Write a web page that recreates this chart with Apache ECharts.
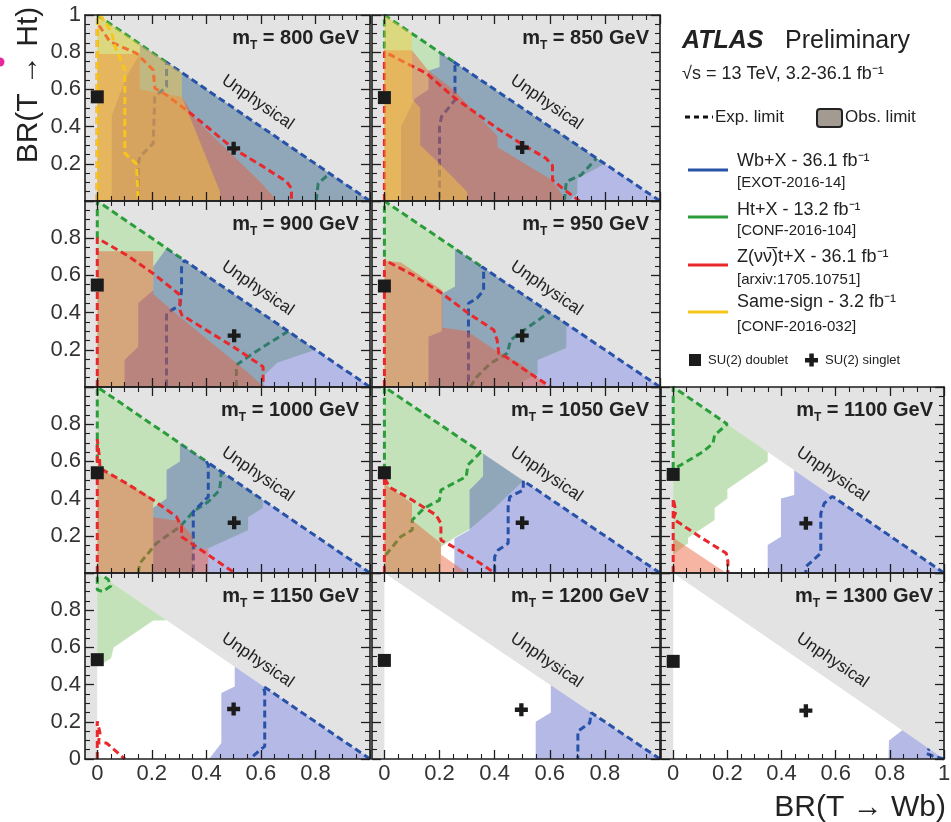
<!DOCTYPE html>
<html>
<head>
<meta charset="utf-8">
<title>T quark BR limits</title>
<script src="https://cdn.jsdelivr.net/npm/echarts@6.0.0/dist/echarts.min.js"></script>
<style>
  html, body { margin: 0; padding: 0; background: #fff; }
  #container { width: 951px; height: 822px; }
</style>
</head>
<body>
<div id="container"></div>
<script>
// one panel per T mass (GeV)
const masses = [800, 850, 900, 950, 1000, 1050, 1100, 1150, 1200, 1300];

// observed excluded regions, points are [BR(T->Wb), BR(T->Ht)]
const htObs = [
    [[0,0],[0,1],[1,0]],
    [[0,0],[0,1],[0.8,0.2],[0.7,0.12],[0.7,0.04],[0.67,0]],
    [[0,0],[0,1],[0.8,0.2],[0.66,0.13],[0.61,0.06],[0.61,0]],
    [[0,0],[0,1],[0.66,0.34],[0.66,0.21],[0.556,0.145],[0.556,0.07],[0.5,0.03],[0.5,0]],
    [[0,0],[0,1],[0.607,0.393],[0.607,0.35],[0.553,0.3],[0.553,0.23],[0.407,0.133],[0.35,0.124],[0.35,0]],
    [[0,0],[0,1],[0.504,0.496],[0.4,0.35],[0.309,0.235],[0.254,0.19],[0.205,0.14],[0.205,0]],
    [[0,0.1],[0,1],[0.349,0.651],[0.349,0.6],[0.2,0.45],[0.2,0.4],[0.153,0.35],[0.153,0.285],[0.055,0.19],[0.055,0.16]],
    [[0,0.5],[0,1],[0.254,0.746],[0.205,0.745],[0.06,0.6],[0.05,0.54],[0.01,0.505]],
    [],
    []
];
const wbObs = [
    [[0.156,0.844],[0.156,0.79],[0.107,0.67],[0.053,0.46],[0.053,0],[1,0]],
    [[0.2,0.8],[0.2,0.72],[0.16,0.7],[0.16,0.6],[0.11,0.55],[0.06,0.4],[0.06,0],[1,0]],
    [[0.254,0.746],[0.205,0.647],[0.205,0.52],[0.15,0.45],[0.15,0.217],[0.1,0.145],[0.1,0],[1,0]],
    [[0.256,0.744],[0.256,0.54],[0.208,0.5],[0.208,0.3],[0.16,0.27],[0.16,0],[1,0]],
    [[0.303,0.697],[0.303,0.6],[0.254,0.554],[0.254,0.4],[0.205,0.35],[0.205,0],[1,0]],
    [[0.358,0.642],[0.358,0.52],[0.309,0.446],[0.309,0.231],[0.254,0.186],[0.254,0],[1,0]],
    [[0.447,0.553],[0.447,0.42],[0.398,0.4],[0.398,0.195],[0.349,0.15],[0.349,0],[1,0]],
    [[0.504,0.496],[0.504,0.39],[0.455,0.355],[0.455,0.086],[0.41,0],[1,0]],
    [[0.604,0.396],[0.604,0.25],[0.549,0.2],[0.549,0],[1,0]],
    [[0.846,0.154],[0.797,0.1],[0.795,0],[1,0]]
];
const ztObs = [
    [[0,0],[0,0.79],[0.156,0.79],[0.156,0.6],[0.31,0.56],[0.36,0.44],[0.6,0.1],[0.66,0]],
    [[0,0],[0,0.81],[0.1,0.81],[0.16,0.7],[0.25,0.6],[0.41,0.35],[0.41,0.29],[0.61,0.11],[0.66,0]],
    [[0,0],[0,0.73],[0.205,0.73],[0.205,0.5],[0.3,0.38],[0.45,0.2],[0.55,0.08],[0.61,0]],
    [[0,0],[0,0.68],[0.06,0.67],[0.21,0.52],[0.21,0.32],[0.3,0.3],[0.4,0.2],[0.5,0.12],[0.556,0.05],[0.59,0]],
    [[0,0],[0,0.57],[0.205,0.4],[0.205,0.3],[0.3,0.28],[0.35,0.2],[0.35,0.13],[0.407,0.13],[0.407,0]],
    [[0,0],[0,0.48],[0.1,0.375],[0.1,0.285],[0.205,0.16],[0.205,0.1],[0.3,0]],
    [[0,0],[0,0.19],[0.196,0]],
    [],
    [],
    []
];
const ssObs = [
    [[0,0],[0,1],[0.31,0.69],[0.31,0.56],[0.45,0.05],[0.45,0]],
    [[0,0],[0,1],[0.1,0.9],[0.1,0.55],[0.13,0.5],[0.13,0.3],[0.2,0.2],[0.3,0.05],[0.3,0]],
    [], [], [], [], [], [], [], []
];

// expected limits (dashed), a list of polylines per panel
const htExp = [
    [[[0,1],[0.254,0.746]], [[0.803,0],[0.81,0.095],[0.852,0.148]]],
    [[[0,0.82],[0,1],[0.25,0.75]], [[0.653,0],[0.66,0.104],[0.714,0.14],[0.77,0.23]]],
    [[[0,0.8],[0,1],[0.31,0.69]], [[0.51,0],[0.51,0.118],[0.57,0.18],[0.7,0.3]]],
    [[[0,0.7],[0,1],[0.354,0.646]], [[0.311,0],[0.336,0.056],[0.385,0.127],[0.446,0.181],[0.458,0.253],[0.507,0.306],[0.598,0.402]]],
    [[[0,0.6],[0,1],[0.4,0.6]], [[0.15,0],[0.156,0.052],[0.217,0.16],[0.303,0.249],[0.352,0.33],[0.407,0.383],[0.449,0.446],[0.455,0.545]]],
    [[[0,0.55],[0,1],[0.35,0.65]], [[0.35,0.65],[0.303,0.581],[0.297,0.518],[0.205,0.446],[0.2,0.392],[0.144,0.348],[0.101,0.285],[0.101,0.231],[0.059,0.195],[0.01,0.106],[0,0.09]]],
    [[[0,0.5],[0,1],[0.2,0.8],[0.153,0.742],[0.147,0.697],[0.11,0.652],[0.043,0.593],[0.006,0.563]]],
    [[[0,0.98],[0,0.91],[0.02,0.9],[0.05,0.93],[0.04,0.965],[0.02,0.985]]],
    [],
    []
];
const wbExp = [
    [[[1,0],[0.254,0.746],[0.254,0.615],[0.211,0.56],[0.205,0.31],[0.156,0.238],[0.15,0.2],[0.15,0]]],
    [[[1,0],[0.25,0.75],[0.256,0.73],[0.256,0.543],[0.207,0.453],[0.2,0.4],[0.2,0]]],
    [[[1,0],[0.32,0.68],[0.309,0.656],[0.309,0.52],[0.303,0.44],[0.28,0.42],[0.254,0.396],[0.254,0]]],
    [[[1,0],[0.354,0.646],[0.36,0.62],[0.36,0.52],[0.336,0.477],[0.305,0.45],[0.305,0]]],
    [[[1,0],[0.4,0.6],[0.407,0.58],[0.407,0.41],[0.352,0.33],[0.352,0]]],
    [[[1,0],[0.504,0.496],[0.504,0.446],[0.455,0.41],[0.449,0.357],[0.449,0.16],[0.413,0.124],[0.4,0.088],[0.4,0]]],
    [[[1,0],[0.588,0.412],[0.558,0.375],[0.545,0.32],[0.545,0.106],[0.49,0.034],[0.49,0]]],
    [[[1,0],[0.608,0.392],[0.614,0.36],[0.614,0.068],[0.59,0.04],[0.559,0]]],
    [[[1,0],[0.751,0.249],[0.745,0.194],[0.702,0.149],[0.702,0]]],
    [[[1,0],[0.96,0.015],[0.935,0.03],[0.945,0.055]]]
];
const ztExp = [
    [[[0,0],[0,0.94],[0.01,0.937],[0.046,0.857],[0.144,0.794],[0.205,0.704],[0.211,0.606],[0.254,0.57],[0.358,0.453],[0.498,0.283],[0.608,0.185],[0.694,0.104],[0.712,0.068],[0.712,0]]],
    [[[0,0],[0,0.803],[0.067,0.75],[0.153,0.686],[0.25,0.56],[0.41,0.39],[0.494,0.31],[0.586,0.23],[0.61,0.19],[0.61,0.113],[0.653,0.06],[0.708,0]]],
    [[[0,0],[0,0.8],[0.107,0.71],[0.205,0.61],[0.303,0.495],[0.303,0.414],[0.31,0.387],[0.498,0.217],[0.608,0.109],[0.608,0]]],
    [[[0,0],[0,0.683],[0.104,0.602],[0.208,0.504],[0.305,0.396],[0.397,0.306],[0.409,0.253],[0.415,0.181],[0.44,0.163],[0.519,0.082],[0.604,0]]],
    [[[0,0],[0,0.72],[0.008,0.62],[0.01,0.563],[0.107,0.482],[0.205,0.392],[0.29,0.303],[0.309,0.25],[0.309,0.195],[0.407,0.097],[0.504,0]]],
    [[[0,0],[0,0.58],[0.004,0.5],[0.02,0.46],[0.101,0.392],[0.187,0.312],[0.205,0.267],[0.205,0.177],[0.248,0.142],[0.321,0.079],[0.4,0]]],
    [[[0,0],[0,0.4],[0.01,0.33],[0,0.29],[0.025,0.267],[0.098,0.195],[0.196,0.106],[0.202,0.061],[0.202,0]]],
    [[[0,0],[0,0.203],[0.01,0.14],[0.004,0.086],[0.034,0.086],[0.101,0]]],
    [],
    []
];
const ssExp = [
    [[[0,0],[0,1]], [[0.01,1],[0.052,0.91],[0.065,0.83],[0.101,0.704],[0.101,0.256],[0.144,0.2],[0.15,0]]],
    [], [], [], [], [], [], [], [], []
];

// benchmark points
const doubletY = [0.56, 0.556, 0.548, 0.543, 0.539, 0.539, 0.53, 0.534, 0.53, 0.525];
const singlet = [[0.5,0.283],[0.5,0.287],[0.502,0.276],[0.5,0.276],[0.502,0.27],[0.5,0.27],[0.49,0.267],[0.5,0.269],[0.497,0.265],[0.49,0.26]];

// unphysical region (x + y > 1, or x < 0) and its label
const unphysical = [[-0.045,0],[0,0],[0,1],[1,0],[1,1],[-0.045,1]];
const unphysLabel = [0.588, 0.53];

// tick values
const xMajor = [0, 0.2, 0.4, 0.6, 0.8, 1];
const xMinor = [0.05, 0.1, 0.15, 0.25, 0.3, 0.35, 0.45, 0.5, 0.55, 0.65, 0.7, 0.75, 0.85, 0.9, 0.95];
const xLabelsCol = [[0, 0.2, 0.4, 0.6, 0.8], [0, 0.2, 0.4, 0.6, 0.8], [0, 0.2, 0.4, 0.6, 0.8, 1]];
const yLabelsRow = [[0.2, 0.4, 0.6, 0.8, 1], [0.2, 0.4, 0.6, 0.8], [0.2, 0.4, 0.6, 0.8], [0, 0.2, 0.4, 0.6, 0.8]];

// legend texts
const legendNames = ['Wb+X - 36.1 fb\u207B\u00B9', 'Ht+X - 13.2 fb\u207B\u00B9', 'Z(\u03BD\u03BD\u0305)t+X - 36.1 fb\u207B\u00B9', 'Same-sign - 3.2 fb\u207B\u00B9'];
const legendRefs = ['[EXOT-2016-14]', '[CONF-2016-104]', '[arxiv:1705.10751]', '[CONF-2016-032]'];

// layout
const cells = [[0,0],[1,0],[0,1],[1,1],[0,2],[1,2],[2,2],[0,3],[1,3],[2,3]];
const colLeft = [85, 372, 661];
const colWidth = [285, 288, 283];
const rowTop = [15, 201, 387, 573];
const rowH = 186;
const X_MIN = -0.045;
const AX = '#1e1e1e';
const FONT = 'Liberation Sans';
const CROSS = 'path://M4,0H8V4H12V8H8V12H4V8H0V4H4Z';

const analyses = [
    { obs: htObs, exp: htExp, fill: 'rgba(100,180,70,0.38)', line: '#2a9e3a' },
    { obs: wbObs, exp: wbExp, fill: 'rgba(60,70,190,0.38)', line: '#2852a8' },
    { obs: ztObs, exp: ztExp, fill: 'rgba(235,90,50,0.45)', line: '#e8282a' },
    { obs: ssObs, exp: ssExp, fill: 'rgba(250,205,60,0.45)', line: '#f6c61c' }
];
const legendColors = ['#2852a8', '#2a9e3a', '#e8282a', '#f6c61c'];

function xAxes(gi, labels) {
    const out = [];
    ['bottom', 'top'].forEach(pos => {
        out.push({
            gridIndex: gi, type: 'value', min: X_MIN, max: 1, position: pos, z: 10,
            axisLine: { show: true, onZero: false, lineStyle: { color: AX, width: 1.6 } },
            axisTick: { show: true, inside: true, length: 9, customValues: xMajor, lineStyle: { color: AX, width: 1.3 } },
            axisLabel: (pos === 'bottom' && labels) ? {
                show: true, customValues: labels, margin: 4, fontSize: 22, color: '#333', fontFamily: FONT,
                formatter: v => String(v)
            } : { show: false },
            splitLine: { show: false }
        });
        out.push({
            gridIndex: gi, type: 'value', min: X_MIN, max: 1, position: pos, z: 10,
            axisLine: { show: false, onZero: false },
            axisTick: { show: true, inside: true, length: 5, customValues: xMinor, lineStyle: { color: AX, width: 1.1 } },
            axisLabel: { show: false },
            splitLine: { show: false }
        });
    });
    return out;
}

function yAxes(gi, labels) {
    return ['left', 'right'].map(pos => ({
        gridIndex: gi, type: 'value', min: 0, max: 1, interval: 0.2, position: pos, z: 10,
        axisLine: { show: true, onZero: false, lineStyle: { color: AX, width: 1.6 } },
        axisTick: { show: true, inside: true, length: 9, lineStyle: { color: AX, width: 1.3 } },
        minorTick: { show: true, splitNumber: 4, length: 5, lineStyle: { color: AX, width: 1.1 } },
        axisLabel: (pos === 'left' && labels) ? {
            show: true, margin: 4, fontSize: 22, color: '#333', fontFamily: FONT,
            showMinLabel: true, showMaxLabel: true,
            formatter: v => labels.some(t => Math.abs(t - v) < 1e-6) ? String(Math.round(v * 10) / 10) : ''
        } : { show: false },
        splitLine: { show: false },
        minorSplitLine: { show: false }
    }));
}

function region(xi, yi, pts, color, z) {
    return {
        type: 'custom', xAxisIndex: xi, yAxisIndex: yi, z: z, silent: true, clip: true,
        data: pts,
        renderItem: function (params, api) {
            if (params.dataIndex !== 0) return null;
            return {
                type: 'polygon',
                shape: { points: pts.map(p => api.coord(p)) },
                style: { fill: color }
            };
        }
    };
}

function contour(xi, yi, pts, color, z) {
    return {
        type: 'line', xAxisIndex: xi, yAxisIndex: yi, z: z, silent: true,
        data: pts, symbol: 'none', showSymbol: false, clip: true,
        lineStyle: { color: color, width: 3, type: [7, 4] }
    };
}

const grid = [], xAxis = [], yAxis = [], series = [], title = [];

masses.forEach((m, i) => {
    const c = cells[i][0], r = cells[i][1];
    grid.push({ left: colLeft[c], top: rowTop[r], width: colWidth[c], height: rowH, containLabel: false, outerBoundsMode: 'none' });
    const xi = xAxis.length;
    xAxis.push(...xAxes(i, r === 3 ? xLabelsCol[c] : null));
    const yi = yAxis.length;
    yAxis.push(...yAxes(i, c === 0 ? yLabelsRow[r] : null));

    series.push(region(xi, yi, unphysical, '#e3e3e3', 1));
    analyses.forEach((a, k) => {
        if (a.obs[i].length) series.push(region(xi, yi, a.obs[i], a.fill, 2 + 2 * k));
        a.exp[i].forEach(l => series.push(contour(xi, yi, l, a.line, 3 + 2 * k)));
    });

    // SU(2) doublet and singlet points
    series.push({
        type: 'scatter', xAxisIndex: xi, yAxisIndex: yi, z: 12, silent: true,
        data: [[0, doubletY[i]]], symbol: 'rect', symbolSize: 13, itemStyle: { color: '#1b1b1b', opacity: 1 }
    });
    series.push({
        type: 'scatter', xAxisIndex: xi, yAxisIndex: yi, z: 12, silent: true,
        data: [singlet[i]], symbol: CROSS, symbolSize: 13, itemStyle: { color: '#1b1b1b', opacity: 1 }
    });

    // "Unphysical" text along the diagonal
    series.push({
        type: 'custom', xAxisIndex: xi, yAxisIndex: yi, z: 12, silent: true,
        data: [unphysLabel],
        renderItem: function (params, api) {
            const p = api.coord([api.value(0), api.value(1)]);
            return {
                type: 'text', x: p[0], y: p[1], rotation: -0.6,
                style: { text: 'Unphysical', font: '17px "' + FONT + '"', fill: '#222', align: 'center', verticalAlign: 'middle' }
            };
        }
    });

    const edge = colLeft[c] + colWidth[c];
    title.push({
        text: '{m|m}{t|T}{m| = ' + m + ' GeV}',
        right: 951 - edge + 11, top: rowTop[r] + 9, padding: 0,
        textStyle: {
            rich: {
                m: { fontSize: 20, fontWeight: 'bold', fontFamily: FONT, color: '#222', lineHeight: 28, verticalAlign: 'middle' },
                t: { fontSize: 12, fontWeight: 'bold', fontFamily: FONT, color: '#222', lineHeight: 28, verticalAlign: 'bottom' }
            }
        }
    });
});

function label(x, y, text, font) {
    return { type: 'text', x: x, y: y, silent: true, style: { text: text, font: font, fill: '#222', verticalAlign: 'middle' } };
}

const graphic = [
    { type: 'circle', silent: true, shape: { cx: 0, cy: 62, r: 4.5 }, style: { fill: '#e6289e' } },
    { type: 'text', x: 29, y: 85, rotation: Math.PI / 2, silent: true,
      style: { text: 'BR(T \u2192 Ht)', font: '30px "' + FONT + '"', fill: '#222', align: 'center', verticalAlign: 'middle' } },
    { type: 'text', x: 946, y: 808, silent: true,
      style: { text: 'BR(T \u2192 Wb)', font: '30px "' + FONT + '"', fill: '#222', align: 'right', verticalAlign: 'middle' } },
    label(682, 41, 'ATLAS', 'italic bold 25px "' + FONT + '"'),
    label(785, 41, 'Preliminary', '25px "' + FONT + '"'),
    label(682, 74, '\u221As = 13 TeV, 3.2-36.1 fb\u207B\u00B9', '18px "' + FONT + '"'),
    { type: 'line', silent: true, shape: { x1: 685, y1: 117, x2: 713, y2: 117 }, style: { stroke: '#111', lineWidth: 3, lineDash: [5, 4] } },
    label(715, 117, 'Exp. limit', '17px "' + FONT + '"'),
    { type: 'rect', silent: true, shape: { x: 817, y: 109, width: 25, height: 18, r: 3 }, style: { fill: '#a39a92', stroke: '#222', lineWidth: 2 } },
    label(845, 117, 'Obs. limit', '17px "' + FONT + '"'),
    { type: 'rect', silent: true, shape: { x: 689, y: 354, width: 12, height: 12 }, style: { fill: '#1b1b1b' } },
    label(708, 360, 'SU(2) doublet', '13px "' + FONT + '"'),
    { type: 'rect', silent: true, shape: { x: 805, y: 358, width: 13, height: 4.5 }, style: { fill: '#1b1b1b' } },
    { type: 'rect', silent: true, shape: { x: 809.3, y: 353.5, width: 4.5, height: 13 }, style: { fill: '#1b1b1b' } },
    label(825, 360, 'SU(2) singlet', '13px "' + FONT + '"')
];
const nameY = [161, 210, 257, 302];
const refY = [183, 231, 280, 327];
const lineY = [170, 217, 265, 312];
legendNames.forEach((n, k) => {
    graphic.push({ type: 'line', silent: true, shape: { x1: 688, y1: lineY[k], x2: 728, y2: lineY[k] }, style: { stroke: legendColors[k], lineWidth: 3 } });
    graphic.push(label(737, nameY[k], n, '18px "' + FONT + '"'));
    graphic.push(label(737, refY[k], legendRefs[k], '15px "' + FONT + '"'));
});

const myChart = echarts.init(document.getElementById('container'), null, { renderer: 'canvas' });
myChart.setOption({
    animation: false,
    backgroundColor: '#fff',
    title: title,
    grid: grid,
    xAxis: xAxis,
    yAxis: yAxis,
    series: series,
    graphic: graphic
});
window.addEventListener('resize', myChart.resize);
</script>
</body>
</html>
